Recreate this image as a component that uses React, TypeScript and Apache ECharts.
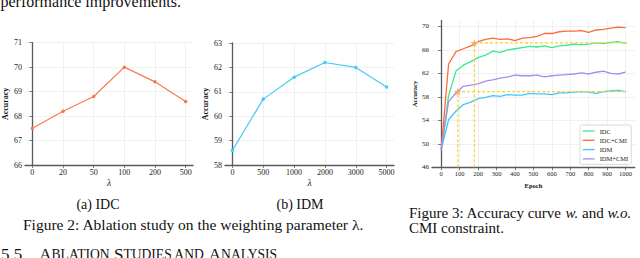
import React, { useEffect, useRef } from "react";
import * as echarts from "echarts";

const lambdaIDC = ["0", "20", "50", "100", "200", "500"];
const accIDC = [67.5, 68.2, 68.8, 70.0, 69.4, 68.6];
const lambdaIDM = ["0", "500", "1000", "2000", "3000", "5000"];
const accIDM = [58.6, 60.7, 61.6, 62.2, 62.0, 61.2];

const epochs = [0, 40, 80, 120, 160, 200, 240, 280, 320, 360, 400, 440, 480, 520, 560, 600, 640, 680, 720, 760, 800, 840, 880, 920, 960, 1000];
const curveIDC = [49.0, 58.2, 62.4, 63.4, 64.0, 64.7, 65.1, 65.8, 65.6, 66.0, 66.2, 66.4, 66.6, 66.5, 66.7, 66.4, 66.7, 66.8, 67.0, 66.9, 67.0, 67.2, 67.1, 67.3, 67.4, 67.1];
const curveIDCCMI = [49.0, 63.6, 65.7, 66.2, 66.7, 67.4, 67.8, 68.0, 67.8, 67.9, 67.6, 68.0, 68.1, 68.3, 68.8, 68.8, 69.1, 69.2, 69.2, 69.3, 69.0, 69.4, 69.5, 69.7, 69.9, 69.8];
const curveIDM = [49.0, 54.1, 55.6, 56.7, 57.1, 57.7, 57.9, 58.2, 58.1, 58.4, 58.3, 58.3, 58.6, 58.5, 58.5, 58.4, 58.7, 58.7, 58.8, 58.9, 58.8, 58.6, 58.9, 59.0, 59.1, 58.9];
const curveIDMCMI = [49.0, 57.2, 58.7, 59.8, 60.0, 60.2, 60.7, 60.9, 61.2, 61.4, 61.7, 61.6, 61.6, 61.7, 61.4, 61.6, 61.7, 61.8, 61.9, 62.1, 61.9, 62.2, 62.4, 62.0, 61.9, 62.2];

const markIDC = [180, 67.2];
const markIDM = [90, 58.9];
const epochTicks = [0, 100, 200, 300, 400, 500, 600, 700, 800, 900, 1000];
const curveYTicks = [46, 50, 54, 58, 62, 66, 70];
const idcYTicks = [66, 67, 68, 69, 70, 71];
const idmYTicks = [58, 59, 60, 61, 62, 63];
const catIdx = [0, 1, 2, 3, 4, 5];

const SERIF = "'Liberation Serif', 'DejaVu Serif', serif";
const STAR = "path://M50,0 L61,35 L98,35 L68,57 L79,91 L50,70 L21,91 L32,57 L2,35 L39,35 Z";

export default function App() {
  const ref = useRef<HTMLDivElement>(null);
  useEffect(() => {
    document.body.style.margin = "0";
    const chart = echarts.init(ref.current!, null, { renderer: "svg" });
    const spine = { show: true, lineStyle: { color: "#5a5a5a", width: 1.3 } };
    const tick = (vals: number[]) => ({ show: true, length: 3, inside: false, customValues: vals, lineStyle: { color: "#5a5a5a", width: 0.8 } });
    const split = { show: true, lineStyle: { color: "#ececec", width: 0.8 } };
    const lbl = (vals: number[], extra: any = {}) => ({
      customValues: vals, fontFamily: SERIF, fontSize: 8, color: "#222", margin: 3, hideOverlap: false,
      formatter: (v: number) => String(v), ...extra,
    });
    const yName = { fontFamily: SERIF, fontSize: 8, fontWeight: "bold", color: "#111" };

    const catAxis = (grid: number, labels: string[]) => ({
      type: "value", gridIndex: grid, min: -0.24, max: 5.24,
      axisLine: spine, axisTick: tick(catIdx), splitLine: split,
      axisLabel: lbl(catIdx, { formatter: (v: number) => labels[Math.round(v)] }),
      name: "λ", nameLocation: "middle", nameGap: 13,
      nameTextStyle: { fontFamily: SERIF, fontSize: 9.5, fontStyle: "italic", color: "#111" },
    });

    const curve = (name: string, data: number[], color: string) => ({
      name, type: "line", xAxisIndex: 2, yAxisIndex: 2,
      data: epochs.map((e, i) => [e, data[i]]),
      showSymbol: false, symbol: "none", lineStyle: { color, width: 1.3 }, itemStyle: { color }, z: 3,
    });
    const dash = (pts: number[][]) => ({
      type: "line", xAxisIndex: 2, yAxisIndex: 2, data: pts, symbol: "none", silent: true,
      lineStyle: { color: "#f7d22e", width: 1.2, type: [3, 2] }, z: 4,
    });

    const txt = (text: string, x: number, y: number, size: number, extra: any = {}) => ({
      type: "text", x, y,
      style: { text, font: `${size}px ${SERIF}`, fill: "#111", align: "left", verticalAlign: "middle", ...extra },
    });

    chart.setOption({
      animation: false,
      grid: [
        { left: 25, top: 42.7, width: 168, height: 122.3 },
        { left: 225, top: 43, width: 169, height: 122 },
        { left: 432, top: 20.6, width: 202.8, height: 146.7 },
      ],
      xAxis: [
        catAxis(0, lambdaIDC),
        catAxis(1, lambdaIDM),
        {
          type: "value", gridIndex: 2, min: -50, max: 1050,
          axisLine: spine, axisTick: tick(epochTicks), splitLine: split,
          axisLabel: lbl(epochTicks, { fontSize: 6.5 }),
          name: "Epoch", nameLocation: "middle", nameGap: 12,
          nameTextStyle: { fontFamily: SERIF, fontSize: 6.5, fontWeight: "bold", color: "#111" },
        },
      ],
      yAxis: [
        { type: "value", gridIndex: 0, min: 66, max: 71, axisLine: spine, axisTick: tick(idcYTicks), splitLine: split, axisLabel: lbl(idcYTicks), name: "Accuracy", nameLocation: "middle", nameGap: 16, nameTextStyle: yName },
        { type: "value", gridIndex: 1, min: 58, max: 63, axisLine: spine, axisTick: tick(idmYTicks), splitLine: split, axisLabel: lbl(idmYTicks), name: "Accuracy", nameLocation: "middle", nameGap: 16, nameTextStyle: yName },
        { type: "value", gridIndex: 2, min: 46, max: 71, axisLine: spine, axisTick: tick(curveYTicks), splitLine: split, axisLabel: lbl(curveYTicks, { fontSize: 7 }), name: "Accuracy", nameLocation: "middle", nameGap: 14, nameTextStyle: { ...yName, fontSize: 6.5 } },
      ],
      legend: {
        data: ["IDC", "IDC+CMI", "IDM", "IDM+CMI"],
        orient: "vertical", left: 580, top: 125, itemWidth: 12, itemHeight: 1.3, itemGap: 2.3,
        icon: "rect",
        padding: [2.5, 3, 2, 2.7],
        backgroundColor: "#fff", borderColor: "#cfcfcf", borderWidth: 0.8, borderRadius: 2,
        textStyle: { fontFamily: SERIF, fontSize: 6.5, color: "#222", lineHeight: 7 },
      },
      series: [
        {
          type: "line", xAxisIndex: 0, yAxisIndex: 0, data: catIdx.map((i) => [i, accIDC[i]]),
          symbol: "circle", symbolSize: 3.5, lineStyle: { color: "#f77b4f", width: 1.2 }, itemStyle: { color: "#f77b4f" },
        },
        {
          type: "line", xAxisIndex: 1, yAxisIndex: 1, data: catIdx.map((i) => [i, accIDM[i]]),
          symbol: "circle", symbolSize: 3.5, lineStyle: { color: "#45cbf7", width: 1.2 }, itemStyle: { color: "#45cbf7" },
        },
        curve("IDC", curveIDC, "#3ee893"),
        curve("IDC+CMI", curveIDCCMI, "#ff6a3a"),
        curve("IDM", curveIDM, "#3cc9f7"),
        curve("IDM+CMI", curveIDMCMI, "#a88cf0"),
        dash([[markIDC[0], 46], markIDC, [1010, markIDC[1]]]),
        dash([[markIDM[0], 46], markIDM, [1010, markIDM[1]]]),
        {
          type: "scatter", xAxisIndex: 2, yAxisIndex: 2, data: [markIDC, markIDM], symbol: STAR, symbolSize: 8,
          itemStyle: { color: "#f7a46a", opacity: 0.9 }, z: 5, silent: true,
        },
      ],
      graphic: [
        txt("performance improvements.", 0.5, 1.2, 16),
        txt("(a) IDC", 98, 204.5, 14, { align: "center" }),
        txt("(b) IDM", 300, 204.5, 14, { align: "center" }),
        txt("Figure 2: Ablation study on the weighting parameter λ.", 23, 224.8, 15.5),
        txt("Figure 3: Accuracy curve {i|w.} and {i|w.o.}", 409, 212.5, 15, {
          rich: { i: { fontFamily: SERIF, fontSize: 15, fontStyle: "italic", fill: "#111" } },
        }),
        txt("CMI constraint.", 409, 228, 15),
        txt("5.5    {b|A}{s|BLATION} {b|S}{s|TUDIES AND} {b|A}{s|NALYSIS}", 1, 254, 17, {
          rich: { b: { fontFamily: SERIF, fontSize: 17, fill: "#111" }, s: { fontFamily: SERIF, fontSize: 13.6, fill: "#111" } },
        }),
      ],
    });
    return () => chart.dispose();
  }, []);
  return <div ref={ref} style={{ width: 640, height: 258 }} />;
}
